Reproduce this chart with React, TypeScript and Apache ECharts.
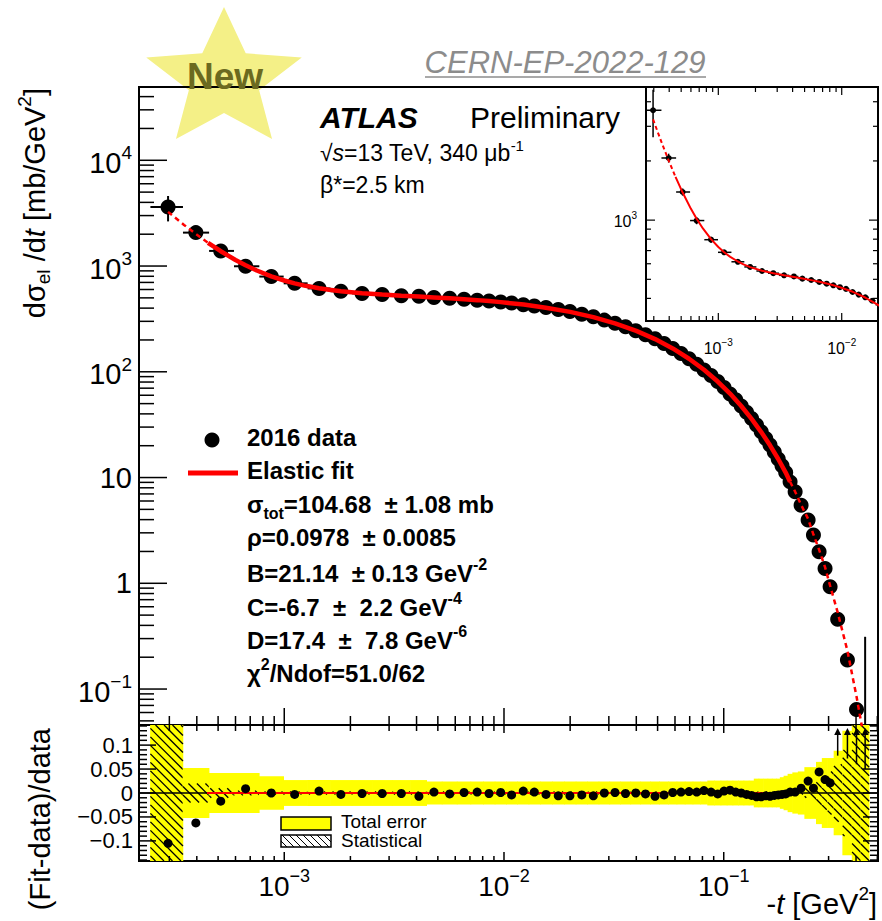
import React, { useEffect, useRef } from 'react';
import * as echarts from 'echarts';

const FONT = '"Liberation Sans", Arial, Helvetica, sans-serif';

// ---------------- data ----------------
const tValues = [
  0.000296, 0.000396, 0.000514, 0.000667, 0.000873, 0.001115, 0.00144, 0.00181, 0.00226, 0.00279,
  0.00341, 0.0041, 0.0048, 0.00566, 0.00658, 0.00755, 0.00855, 0.00966, 0.01083, 0.01224,
  0.01374, 0.01553, 0.01766, 0.01995, 0.0226, 0.0255, 0.02861, 0.032, 0.03573, 0.03977,
  0.04405, 0.04867, 0.0535, 0.05859, 0.06391, 0.06953, 0.07535, 0.08131, 0.08756, 0.09391,
  0.1003, 0.1068, 0.1134, 0.1201, 0.127, 0.1339, 0.141, 0.1481, 0.1553, 0.1624,
  0.1698, 0.177, 0.1842, 0.1914, 0.2004, 0.2113, 0.2249, 0.2421, 0.256, 0.2716,
  0.2891, 0.3048, 0.33, 0.3655, 0.402, 0.44,
];
const dsdtValues = [
  3620, 2070, 1390, 995, 795, 686, 614, 578, 551, 537,
  524, 517, 504, 496, 485, 475, 466, 456, 447, 431,
  418, 405, 389, 371, 350, 331, 308, 287, 266, 245,
  224, 205, 185, 166, 149, 133, 118, 104, 92, 81,
  71, 61.8, 54.4, 47.5, 41.4, 36.1, 31.35, 27.1, 23.4, 20.3,
  17.4, 15.0, 12.95, 11.17, 9.1, 7.33, 5.48, 3.96, 2.86, 1.99,
  1.38, 0.927, 0.456, 0.188, 0.064, 0.04,
];
const totalErrRel = [
  0.27, 0.052, 0.042, 0.042, 0.035,
  0.027, 0.027, 0.027, 0.027, 0.027, 0.027, 0.027,
  0.024, 0.024, 0.024, 0.024, 0.024, 0.024, 0.024, 0.024, 0.024, 0.024, 0.024, 0.024, 0.024,
  0.024, 0.024, 0.024, 0.024, 0.024, 0.024, 0.024, 0.024, 0.024, 0.024, 0.024, 0.024, 0.024,
  0.026, 0.026, 0.026, 0.026, 0.026, 0.026, 0.026, 0.026,
  0.03, 0.03, 0.03, 0.03, 0.03, 0.03,
  0.033, 0.036, 0.04, 0.043, 0.045, 0.054, 0.054, 0.065, 0.073, 0.073, 0.088, 0.13, 0.15, 6.8,
];
const statErrRel = [
  0.15, 0.02, 0.01, 0.005,
  0.003, 0.003, 0.003, 0.003, 0.003, 0.003, 0.003, 0.003, 0.003, 0.003,
  0.003, 0.003, 0.003, 0.003, 0.003, 0.003, 0.003, 0.003, 0.003, 0.003,
  0.003, 0.003, 0.003, 0.003, 0.003, 0.003, 0.003, 0.003, 0.003, 0.003,
  0.003, 0.003, 0.003, 0.003, 0.003, 0.003, 0.003, 0.003, 0.003, 0.003,
  0.003, 0.003, 0.003, 0.003, 0.003, 0.003, 0.003, 0.003, 0.003, 0.003,
  0.003, 0.003, 0.003,
  0.01, 0.015, 0.025, 0.035, 0.045, 0.06, 0.09, 0.15, 6.8,
];
const ratioValues = [
  -0.105, -0.0625, -0.017, 0.009, 0.0, -0.003, 0.004, -0.003, -0.001, -0.001,
  -0.001, -0.007, 0.002, -0.002, 0.001, 0.002, -0.001, 0.001, -0.004, 0.004,
  0.002, -0.003, -0.006, -0.006, -0.004, -0.006, 0.0, 0.001, -0.001, 0.0,
  -0.002, -0.007, -0.004, 0.001, 0.002, 0.003, 0.002, 0.005, 0.002, -0.002,
  0.004, 0.006, 0.002, 0.0, -0.003, -0.005, -0.008, -0.008, -0.006, -0.007,
  -0.005, -0.004, -0.003, -0.002, 0.002, 0.002, 0.01, 0.025, 0.01, 0.044,
  0.028, 0.021, 0.2, 0.3, 0.5, 0.8,
];
const ratioErrValues = [
  0, 0, 0, 0, 0, 0, 0, 0, 0, 0, 0, 0, 0, 0, 0, 0, 0, 0, 0, 0,
  0, 0, 0, 0, 0, 0, 0, 0, 0, 0, 0, 0, 0, 0, 0, 0, 0, 0, 0, 0,
  0, 0, 0, 0, 0, 0, 0, 0, 0, 0, 0, 0, 0, 0, 0, 0, 0, 0, 0, 0,
  0, 0, 0.122, 0.228, 0.44, 0.75,
];
const fitT = [
  0.000296, 0.00035, 0.000396, 0.00045, 0.000514, 0.0006, 0.000667, 0.00075, 0.000873, 0.001,
  0.001115, 0.00125, 0.00144, 0.0016, 0.00181, 0.00226, 0.00279, 0.00341, 0.0041, 0.0048,
  0.00566, 0.00658, 0.00755, 0.00855, 0.00966, 0.0123, 0.0155, 0.02, 0.0255, 0.032,
  0.04, 0.0487, 0.0586, 0.0695, 0.0813, 0.0939, 0.1068, 0.1201, 0.1339, 0.1481,
  0.1624, 0.177, 0.1914, 0.2004, 0.2113, 0.2249, 0.2421, 0.256, 0.2716, 0.2891,
  0.3048, 0.33, 0.3655, 0.402, 0.44, 0.47,
];
const fitValues = [
  3251, 2448, 2009, 1659, 1381, 1141, 1016, 907, 800, 730,
  686, 650, 616, 596, 577, 553, 537, 524, 514, 505,
  495.3, 485.8, 476, 466.3, 455.8, 432, 404, 368.4, 328.8, 287.4,
  243.6, 203.7, 166.3, 132.9, 104.4, 80.8, 62.2, 47.5, 35.9, 26.9,
  20.15, 14.97, 11.15, 9.12, 7.35, 5.53, 4.06, 2.89, 2.08, 1.42,
  0.95, 0.53, 0.23, 0.085, 0.03, 0.012,
];
const fitRange = [0.000445, 0.207];

// tick labels (log10 exponents / linear values)
const mainYLabelExps = [-1, 0, 1, 2, 3, 4];
const xLabelExps = [-3, -2, -1];
const ratioYLabels = [-0.1, -0.05, 0, 0.05, 0.1];
const insetXLabelExps = [-3, -2];
const insetYLabelExps = [3];

// axis ranges (log10 space for log axes)
const MAIN_X = [-3.661, -0.298];
const MAIN_Y = [-1.34, 4.693];
const RATIO_Y = [-0.142, 0.142];
const INSET_X = [-3.586, -1.706];
const INSET_Y = [2.487, 3.677];

// ---------------- helpers ----------------
const L = (v: number) => Math.log10(v);
const clamp = (v: number, r: number[]) => Math.max(r[0], Math.min(r[1], v));

const binLo = tValues.map((t, i) => (i === 0 ? t - (tValues[1] - t) / 2 : (tValues[i - 1] + t) / 2));
const binHi = tValues.map((t, i) =>
  i === tValues.length - 1 ? t + (t - tValues[i - 1]) / 2 : (t + tValues[i + 1]) / 2
);

function logTicks(r: number[]) {
  const out: { v: number; major: boolean }[] = [];
  for (let n = Math.floor(r[0]) - 1; n <= Math.ceil(r[1]); n++) {
    for (let k = 1; k <= 9; k++) {
      const v = n + Math.log10(k);
      if (v >= r[0] - 1e-9 && v <= r[1] + 1e-9) out.push({ v, major: k === 1 });
    }
  }
  return out;
}
function ratioTicks() {
  const out: { v: number; major: boolean }[] = [];
  for (let k = -14; k <= 14; k++) out.push({ v: k / 100, major: k % 5 === 0 });
  return out;
}

function hatchLines(x0: number, y0: number, x1: number, y1: number, s: number, lw: number) {
  const out: any[] = [];
  if (x1 - x0 < 0.5 || y1 - y0 < 0.5) return out;
  const kMin = Math.ceil((y0 - x1) / s);
  const kMax = Math.floor((y1 - x0) / s);
  for (let k = kMin; k <= kMax; k++) {
    const c = k * s;
    const xa = Math.max(x0, y0 - c);
    const xb = Math.min(x1, y1 - c);
    if (xb - xa > 0.3)
      out.push({ type: 'line', shape: { x1: xa, y1: xa + c, x2: xb, y2: xb + c }, style: { stroke: '#000', lineWidth: lw } });
  }
  return out;
}

function tickSeries(idx: number, XR: number[], YR: number[], xt: any[], yt: any[], len: any, lw: number) {
  return {
    type: 'custom',
    xAxisIndex: idx,
    yAxisIndex: idx,
    z: 6,
    silent: true,
    data: [[XR[0], YR[0]]],
    renderItem: (params: any, api: any) => {
      const cs = params.coordSys;
      const top = cs.y, bottom = cs.y + cs.height, left = cs.x, right = cs.x + cs.width;
      const ch: any[] = [];
      const st = { stroke: '#000', lineWidth: lw };
      xt.forEach((t: any) => {
        const px = api.coord([t.v, YR[0]])[0];
        if (len.bottom) {
          const l = t.major ? len.bottom[0] : len.bottom[1];
          ch.push({ type: 'line', shape: { x1: px, y1: bottom, x2: px, y2: bottom - l }, style: st });
        }
        if (len.top) {
          const l = t.major ? len.top[0] : len.top[1];
          ch.push({ type: 'line', shape: { x1: px, y1: top, x2: px, y2: top + l }, style: st });
        }
      });
      yt.forEach((t: any) => {
        const py = api.coord([XR[0], t.v])[1];
        if (len.left) {
          const l = t.major ? len.left[0] : len.left[1];
          ch.push({ type: 'line', shape: { x1: left, y1: py, x2: left + l, y2: py }, style: st });
        }
        if (len.right) {
          const l = t.major ? len.right[0] : len.right[1];
          ch.push({ type: 'line', shape: { x1: right, y1: py, x2: right - l, y2: py }, style: st });
        }
      });
      return { type: 'group', children: ch };
    },
  };
}

function errSeries(idx: number, XR: number[], YR: number[], lw: number) {
  return {
    type: 'custom',
    xAxisIndex: idx,
    yAxisIndex: idx,
    z: 3,
    silent: true,
    data: tValues.map((t, i) => {
      const v = dsdtValues[i];
      const e = totalErrRel[i] * v;
      return [L(t), L(v), L(binLo[i]), L(binHi[i]), v - e > 0 ? L(v - e) : -99, L(v + e)];
    }),
    renderItem: (params: any, api: any) => {
      const x = api.value(0), y = api.value(1);
      const inX = x >= XR[0] && x <= XR[1];
      const inY = y >= YR[0] && y <= YR[1];
      const ch: any[] = [];
      const st = { stroke: '#000', lineWidth: lw };
      if (inY) {
        const p0 = api.coord([clamp(api.value(2), XR), y]);
        const p1 = api.coord([clamp(api.value(3), XR), y]);
        ch.push({ type: 'line', shape: { x1: p0[0], y1: p0[1], x2: p1[0], y2: p1[1] }, style: st });
      }
      if (inX) {
        const q0 = api.coord([x, clamp(api.value(4), YR)]);
        const q1 = api.coord([x, clamp(api.value(5), YR)]);
        if (Math.abs(q0[1] - q1[1]) > 0.5)
          ch.push({ type: 'line', shape: { x1: q0[0], y1: q0[1], x2: q1[0], y2: q1[1] }, style: st });
      }
      if (!ch.length) return null;
      return { type: 'group', children: ch };
    },
  };
}

function fitSeries(idx: number, part: 'solid' | 'left' | 'right', width: number, dash: number[] | null) {
  const pts: number[][] = [];
  fitT.forEach((t, i) => {
    const ok =
      part === 'solid'
        ? t >= fitT[3] - 1e-9 && t <= 0.2004 + 1e-9
        : part === 'left'
        ? t <= fitT[3] + 1e-9
        : t >= 0.2004 - 1e-9;
    if (ok) pts.push([L(t), L(fitValues[i])]);
  });
  return {
    type: 'line',
    xAxisIndex: idx,
    yAxisIndex: idx,
    data: pts,
    symbol: 'none',
    showSymbol: false,
    z: 5,
    silent: true,
    clip: true,
    lineStyle: { color: '#ff0000', width, type: dash || 'solid', opacity: 1 },
  };
}

function richSet(F: number, Q: number, bold = false) {
  const Fs = Math.round(F * 0.65);
  const fw = bold ? 'bold' : 'normal';
  const base = { fontFamily: FONT, fontWeight: fw, fill: '#000', color: '#000' };
  return {
    m: { ...base, fontSize: F, verticalAlign: 'bottom', padding: [0, 0, Q, 0] },
    mi: { ...base, fontSize: F, fontStyle: 'italic', verticalAlign: 'bottom', padding: [0, 0, Q, 0] },
    sub: { ...base, fontSize: Fs, verticalAlign: 'bottom', padding: [0, 0, 0, 0] },
    sup: { ...base, fontSize: Fs, verticalAlign: 'bottom', padding: [0, 0, Math.round(Q + 0.86 * F - Fs / 2), 0] },
  };
}

const powLabel = (v: number) => {
  const n = Math.round(v);
  if (n === 0) return '{m|1}';
  if (n === 1) return '{m|10}';
  return `{m|10}{sup|${n < 0 ? '−' : ''}${Math.abs(n)}}`;
};

function valueAxis(gridIndex: number, R: number[], labels: number[] | null, formatter: any, F: number, margin: number, position?: string) {
  return {
    type: 'value',
    gridIndex,
    min: R[0],
    max: R[1],
    position,
    axisLine: { show: false, onZero: false },
    axisTick: { show: false },
    splitLine: { show: false },
    axisLabel: labels
      ? {
          show: true,
          customValues: labels,
          formatter,
          margin,
          color: '#000',
          fontFamily: FONT,
          fontSize: F,
          rich: richSet(F, 0),
        }
      : { show: false },
  };
}

function buildOption() {
  const ratioFmt = (v: number) => {
    if (Math.abs(v) < 1e-9) return '0';
    return (v < 0 ? '−' : '') + String(Math.round(Math.abs(v) * 1000) / 1000);
  };

  // star
  const starPts: number[][] = [];
  for (let i = 0; i < 10; i++) {
    const a = -Math.PI / 2 + (i * Math.PI) / 5;
    const r = i % 2 === 0 ? 73 : 33;
    starPts.push([224 + r * Math.cos(a) * 1.12, 80 + r * Math.sin(a)]);
  }

  const legRich = richSet(24, 5, true);
  const legendLines = [
    { y: 440, text: '{m|2016 data}' },
    { y: 473, text: '{m|Elastic fit}' },
    { y: 507, text: '{m|σ}{sub|tot}{m|=104.68  ± 1.08 mb}' },
    { y: 540, text: '{m|ρ=0.0978  ± 0.0085}' },
    { y: 573, text: '{m|B=21.14  ± 0.13 GeV}{sup|-2}' },
    { y: 607, text: '{m|C=-6.7  ±  2.2 GeV}{sup|-4}' },
    { y: 640, text: '{m|D=17.4  ±  7.8 GeV}{sup|-6}' },
    { y: 673, text: '{m|χ}{sup|2}{m|/Ndof=51.0/62}' },
  ];

  const graphic: any[] = [
    { type: 'polygon', shape: { points: starPts }, style: { fill: '#f4f087' }, z: -1, silent: true },
    {
      type: 'text', x: 225, y: 76, z: 20,
      style: { text: 'New', fontFamily: FONT, fontWeight: 'bold', fontSize: 37, fill: '#6b6a1f', align: 'center', verticalAlign: 'middle' },
    },
    {
      type: 'text', x: 565, y: 62,
      style: { text: 'CERN-EP-2022-129', fontFamily: FONT, fontStyle: 'italic', fontSize: 31, fill: '#8c8c8c', align: 'center', verticalAlign: 'middle' },
    },
    { type: 'line', shape: { x1: 425, y1: 77, x2: 706, y2: 77 }, style: { stroke: '#8c8c8c', lineWidth: 1.5 } },
    {
      type: 'text', x: 320, y: 117,
      style: { text: 'ATLAS', fontFamily: FONT, fontStyle: 'italic', fontWeight: 'bold', fontSize: 30, fill: '#000', verticalAlign: 'middle' },
    },
    {
      type: 'text', x: 470, y: 117,
      style: { text: 'Preliminary', fontFamily: FONT, fontSize: 30, fill: '#000', verticalAlign: 'middle' },
    },
    {
      type: 'text', x: 320, y: 151,
      style: { text: '{m|√}{mi|s}{m|=13 TeV, 340 μb}{sup|-1}', rich: richSet(23, 0), verticalAlign: 'middle' },
    },
    {
      type: 'text', x: 320, y: 185,
      style: { text: '{m|β*=2.5 km}', rich: richSet(23, 0), verticalAlign: 'middle' },
    },
    { type: 'circle', shape: { cx: 212, cy: 440, r: 7.5 }, style: { fill: '#000' } },
    { type: 'line', shape: { x1: 188, y1: 473, x2: 238, y2: 473 }, style: { stroke: '#ff0000', lineWidth: 5 } },
    ...legendLines.map((l) => ({
      type: 'text', x: 247, y: l.y,
      style: { text: l.text, rich: legRich, verticalAlign: 'middle' },
    })),
    // ratio legend
    { type: 'rect', shape: { x: 281, y: 817, width: 50, height: 13 }, style: { fill: '#ffff00', stroke: '#000', lineWidth: 1.5 } },
    { type: 'rect', shape: { x: 281, y: 835, width: 50, height: 12 }, style: { fill: '#fff', stroke: '#000', lineWidth: 1.5 } },
    ...hatchLines(281, 835, 331, 847, 7, 1),
    {
      type: 'text', x: 341, y: 821,
      style: { text: 'Total error', fontFamily: FONT, fontSize: 19, fill: '#000', verticalAlign: 'middle' },
    },
    {
      type: 'text', x: 341, y: 840,
      style: { text: 'Statistical', fontFamily: FONT, fontSize: 19, fill: '#000', verticalAlign: 'middle' },
    },
    // axis titles
    {
      type: 'text', x: 34, y: 88, rotation: Math.PI / 2,
      style: { text: '{m|dσ}{sub|el}{m| /d}{mi|t}{m| [mb/GeV}{sup|2}{m|]}', rich: richSet(29, 4), align: 'right', verticalAlign: 'middle' },
    },
    {
      type: 'text', x: 40, y: 728, rotation: Math.PI / 2,
      style: { text: '(Fit-data)/data', fontFamily: FONT, fontSize: 29, fill: '#000', align: 'right', verticalAlign: 'middle' },
    },
    {
      type: 'text', x: 877, y: 901,
      style: { text: '{m|-}{mi|t}{m| [GeV}{sup|2}{m|]}', rich: richSet(29, 0), align: 'right', verticalAlign: 'middle' },
    },
  ];

  const bandSeries = {
    type: 'custom',
    xAxisIndex: 1,
    yAxisIndex: 1,
    z: 1,
    silent: true,
    data: tValues.map((t, i) => [L(t), 0, L(binLo[i]), L(binHi[i]), totalErrRel[i], statErrRel[i]]),
    renderItem: (params: any, api: any) => {
      const x0 = api.coord([clamp(api.value(2), MAIN_X), 0])[0];
      const x1 = api.coord([clamp(api.value(3), MAIN_X), 0])[0];
      if (x1 - x0 < 0.3) return null;
      const tot = api.value(4), st = api.value(5);
      const yT0 = api.coord([MAIN_X[0], clamp(tot, RATIO_Y)])[1];
      const yT1 = api.coord([MAIN_X[0], clamp(-tot, RATIO_Y)])[1];
      const yS0 = api.coord([MAIN_X[0], clamp(st, RATIO_Y)])[1];
      const yS1 = api.coord([MAIN_X[0], clamp(-st, RATIO_Y)])[1];
      return {
        type: 'group',
        children: [
          { type: 'rect', shape: { x: x0 - 0.3, y: yT0, width: x1 - x0 + 0.6, height: yT1 - yT0 }, style: { fill: '#ffff00' } },
          ...hatchLines(x0, yS0, x1, yS1, 8.5, 1.3),
        ],
      };
    },
  };

  const arrowSeries = {
    type: 'custom',
    xAxisIndex: 1,
    yAxisIndex: 1,
    z: 4,
    silent: true,
    data: tValues
      .map((t, i) => [L(t), ratioValues[i], ratioValues[i] - ratioErrValues[i]])
      .filter((d) => d[1] > RATIO_Y[1]),
    renderItem: (params: any, api: any) => {
      const cs = params.coordSys;
      const x = api.coord([api.value(0), 0])[0];
      const yLow = api.coord([api.value(0), clamp(api.value(2), RATIO_Y)])[1];
      const yTop = cs.y + 3;
      return {
        type: 'group',
        children: [
          { type: 'line', shape: { x1: x, y1: yLow, x2: x, y2: yTop + 3 }, style: { stroke: '#000', lineWidth: 1.5 } },
          { type: 'polygon', shape: { points: [[x - 3.5, yTop + 7], [x + 3.5, yTop + 7], [x, yTop]] }, style: { fill: '#000' } },
        ],
      };
    },
  };

  const dot = (size: number, z: number, idx: number, data: number[][]) => ({
    type: 'scatter', xAxisIndex: idx, yAxisIndex: idx, z, silent: true,
    symbol: 'circle', symbolSize: size, itemStyle: { color: '#000', opacity: 1 },
    data,
  });

  const series: any[] = [
    // main
    errSeries(0, MAIN_X, MAIN_Y, 2),
    dot(15, 3, 0, tValues.map((t, i) => [L(t), L(dsdtValues[i])])),
    fitSeries(0, 'solid', 4.5, null),
    fitSeries(0, 'left', 2.5, [5, 4]),
    fitSeries(0, 'right', 2.5, [5, 4]),
    tickSeries(0, MAIN_X, MAIN_Y, logTicks(MAIN_X), logTicks(MAIN_Y), { bottom: [17, 9], left: [28, 15] }, 1.5),
    // ratio
    bandSeries,
    {
      type: 'line', xAxisIndex: 1, yAxisIndex: 1, z: 2, silent: true, symbol: 'none',
      data: [[MAIN_X[0], 0], [MAIN_X[1], 0]], lineStyle: { color: '#000', width: 1.5 },
    },
    {
      type: 'line', xAxisIndex: 1, yAxisIndex: 1, z: 3, silent: true, symbol: 'none',
      data: [[L(fitRange[0]), 0], [L(fitRange[1]), 0]], lineStyle: { color: '#ff0000', width: 2 },
    },
    arrowSeries,
    dot(9, 5, 1, tValues.map((t, i) => [L(t), ratioValues[i]])),
    tickSeries(1, MAIN_X, RATIO_Y, logTicks(MAIN_X), ratioTicks(), { top: [8, 6], bottom: [9, 5], left: [17, 8], right: [15, 8] }, 1.5),
    // inset
    errSeries(2, INSET_X, INSET_Y, 1.5),
    dot(6, 3, 2, tValues.map((t, i) => [L(t), L(dsdtValues[i])])),
    fitSeries(2, 'solid', 2, null),
    fitSeries(2, 'left', 2, [4, 3]),
    tickSeries(2, INSET_X, INSET_Y, logTicks(INSET_X), logTicks(INSET_Y), { top: [8, 5], bottom: [8, 5], left: [9, 5], right: [9, 5] }, 1.2),
  ];

  return {
    animation: false,
    backgroundColor: '#fff',
    graphic,
    grid: [
      { left: 139, top: 87, width: 739, height: 638, show: true, borderColor: '#000', borderWidth: 2, backgroundColor: 'transparent', containLabel: false, outerBoundsMode: 'none' },
      { left: 139, top: 725, width: 739, height: 136, show: true, borderColor: '#000', borderWidth: 2, backgroundColor: 'transparent', containLabel: false, outerBoundsMode: 'none' },
      { left: 646, top: 87, width: 232, height: 234, show: true, borderColor: '#000', borderWidth: 2, backgroundColor: '#fff', containLabel: false, outerBoundsMode: 'none', z: 1 },
    ],
    xAxis: [
      valueAxis(0, MAIN_X, null, null, 28, 6, 'bottom'),
      valueAxis(1, MAIN_X, xLabelExps, powLabel, 28, 6, 'bottom'),
      valueAxis(2, INSET_X, insetXLabelExps, powLabel, 16, 16, 'bottom'),
    ],
    yAxis: [
      valueAxis(0, MAIN_Y, mainYLabelExps, powLabel, 29, 7, 'left'),
      valueAxis(1, RATIO_Y, ratioYLabels, ratioFmt, 22, 6, 'left'),
      valueAxis(2, INSET_Y, insetYLabelExps, powLabel, 16, 9, 'left'),
    ],
    series,
  };
}

export default function App() {
  const ref = useRef<HTMLDivElement>(null);
  useEffect(() => {
    if (!ref.current) return;
    const chart = echarts.init(ref.current, null, { renderer: 'svg' });
    chart.setOption(buildOption() as any);
    return () => chart.dispose();
  }, []);
  return (
    <div
      ref={ref}
      style={{ position: 'fixed', left: 0, top: 0, width: 882, height: 921, background: '#fff' }}
    />
  );
}
